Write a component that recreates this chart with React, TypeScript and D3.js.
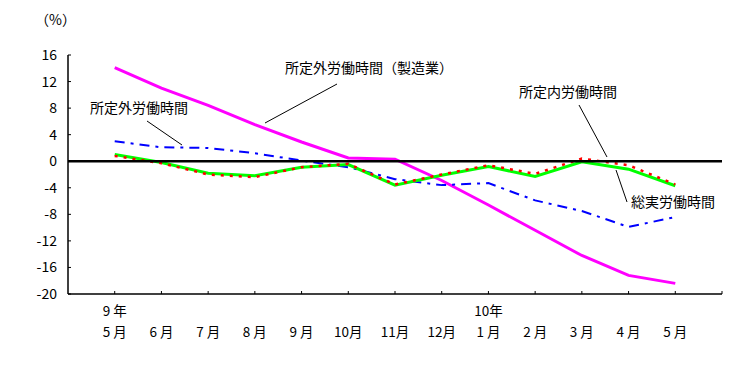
import { useEffect, useRef } from "react";
import * as d3 from "d3";

// 月次の前年同月比 (%)
const months = ["5 月", "6 月", "7 月", "8 月", "9 月", "10月", "11月", "12月", "1 月", "2 月", "3 月", "4 月", "5 月"];
const years = ["9 年", "", "", "", "", "", "", "", "10年", "", "", "", ""];
const yTicks = [16, 12, 8, 4, 0, -4, -8, -12, -16, -20];

const overtimeMfg = [14.1, 11.0, 8.4, 5.5, 2.9, 0.5, 0.3, -2.9, -6.6, -10.4, -14.2, -17.2, -18.4];
const overtime = [3.0, 2.1, 2.0, 1.2, 0.1, -0.9, -2.7, -3.6, -3.3, -5.9, -7.5, -9.9, -8.4];
const scheduled = [0.8, -0.3, -2.0, -2.4, -0.9, -0.4, -3.5, -2.0, -0.6, -1.9, 0.4, -0.6, -3.5];
const total = [1.0, -0.2, -1.8, -2.2, -0.9, -0.5, -3.6, -2.1, -0.8, -2.3, -0.1, -1.2, -3.7];

const FONT = "'Noto Sans CJK JP', 'DejaVu Sans', sans-serif";

const Chart = () => {
  const svgRef = useRef<SVGSVGElement>(null);

  useEffect(() => {
    if (!svgRef.current) return;
    const svg = d3.select(svgRef.current);
    svg.selectAll("*").remove();

    const left = 68;
    const right = 722;
    const top = 55;
    const bottom = 294;

    const x = d3.scaleLinear().domain([-1, months.length]).range([left, right]);
    const y = d3.scaleLinear().domain([16, -20]).range([top, bottom]);

    // axes
    svg.append("line")
      .attr("x1", left).attr("x2", left).attr("y1", top).attr("y2", bottom)
      .attr("stroke", "#000").attr("stroke-width", 1.5);
    svg.append("line")
      .attr("x1", left).attr("x2", right).attr("y1", bottom).attr("y2", bottom)
      .attr("stroke", "#000").attr("stroke-width", 1.5);

    svg.selectAll(".ytick")
      .data(yTicks)
      .join("line")
      .attr("x1", left).attr("x2", left + 3)
      .attr("y1", (d) => y(d)).attr("y2", (d) => y(d))
      .attr("stroke", "#000");

    svg.selectAll(".ylabel")
      .data(yTicks)
      .join("text")
      .attr("x", left - 11)
      .attr("y", (d) => y(d))
      .attr("dy", "0.36em")
      .attr("text-anchor", "end")
      .style("font-family", FONT)
      .style("font-size", "14px")
      .text((d) => `${d}`);

    const tickIdx = d3.range(0, months.length + 1);
    svg.selectAll(".xtick")
      .data(tickIdx)
      .join("line")
      .attr("x1", (d) => x(d)).attr("x2", (d) => x(d))
      .attr("y1", bottom).attr("y2", bottom - 3)
      .attr("stroke", "#000");

    svg.selectAll(".month")
      .data(months)
      .join("text")
      .attr("x", (_, i) => x(i))
      .attr("y", 332)
      .attr("dy", "0.36em")
      .attr("text-anchor", "middle")
      .style("font-family", FONT)
      .style("font-size", "13.5px")
      .text((d) => d);

    svg.selectAll(".year")
      .data(years)
      .join("text")
      .attr("x", (_, i) => x(i))
      .attr("y", 311)
      .attr("dy", "0.36em")
      .attr("text-anchor", "middle")
      .style("font-family", FONT)
      .style("font-size", "13.5px")
      .text((d) => d);

    svg.append("text")
      .attr("x", 35).attr("y", 20).attr("dy", "0.36em")
      .style("font-family", FONT)
      .style("font-size", "14px")
      .text("（%）");

    // series
    const line = d3.line<number>().x((_, i) => x(i)).y((d) => y(d));

    svg.append("path").datum(overtimeMfg)
      .attr("d", line).attr("fill", "none")
      .attr("stroke", "#ff00ff").attr("stroke-width", 3);

    svg.append("path").datum(overtime)
      .attr("d", line).attr("fill", "none")
      .attr("stroke", "#0000ff").attr("stroke-width", 2)
      .attr("stroke-dasharray", "10,6,3,6");

    svg.append("path").datum(total)
      .attr("d", line).attr("fill", "none")
      .attr("stroke", "#00ff00").attr("stroke-width", 3);

    svg.append("path").datum(scheduled)
      .attr("d", line).attr("fill", "none")
      .attr("stroke", "#ff0000").attr("stroke-width", 2.5)
      .attr("stroke-dasharray", "3,6");

    // zero line
    svg.append("line")
      .attr("x1", left).attr("x2", right).attr("y1", y(0)).attr("y2", y(0))
      .attr("stroke", "#000").attr("stroke-width", 2.5);

    // annotations
    const notes = [
      { text: "所定外労働時間", tx: 90, ty: 108, l: [147, 121, 182, 145] },
      { text: "所定外労働時間（製造業）", tx: 285, ty: 68, l: [337, 84, 265, 123] },
      { text: "所定内労働時間", tx: 519, ty: 92, l: [579, 105, 607, 157] },
      { text: "総実労働時間", tx: 631, ty: 202, l: [616, 170, 627, 202] },
    ];
    notes.forEach((n) => {
      svg.append("line")
        .attr("x1", n.l[0]).attr("y1", n.l[1]).attr("x2", n.l[2]).attr("y2", n.l[3])
        .attr("stroke", "#000").attr("stroke-width", 1);
      svg.append("text")
        .attr("x", n.tx).attr("y", n.ty).attr("dy", "0.36em")
        .style("font-family", FONT)
        .style("font-size", "14px")
        .text(n.text);
    });
  }, []);

  return <svg ref={svgRef} width={745} height={369} style={{ display: "block" }} />;
};

export default function App() {
  return (
    <div style={{ position: "absolute", left: 0, top: 0, background: "#fff" }}>
      <Chart />
    </div>
  );
}
